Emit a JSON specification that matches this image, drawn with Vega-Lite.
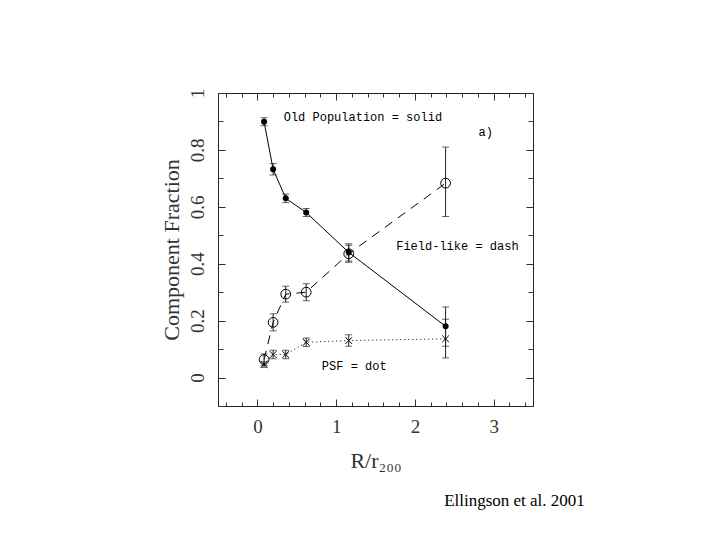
{
  "$schema": "https://vega.github.io/schema/vega-lite/v6.json",
  "description": "Component fraction vs R/r200 (Ellingson et al. 2001).",
  "autosize": {"type": "none"},
  "padding": {"left": 218, "top": 93, "right": 187, "bottom": 134},
  "width": 315,
  "height": 313,
  "background": "white",
  "config": {"view": {"stroke": "#222", "strokeWidth": 1}},
  "datasets": {
    "points": [
      {"series": "old", "x": 0.085, "y": 0.899, "lo": 0.885, "hi": 0.913},
      {"series": "old", "x": 0.2, "y": 0.732, "lo": 0.712, "hi": 0.752},
      {"series": "old", "x": 0.36, "y": 0.63, "lo": 0.615, "hi": 0.645},
      {"series": "old", "x": 0.62, "y": 0.58, "lo": 0.566, "hi": 0.594},
      {"series": "old", "x": 1.16, "y": 0.44, "lo": 0.41, "hi": 0.47},
      {"series": "old", "x": 2.39, "y": 0.18, "lo": 0.11, "hi": 0.248},
      {"series": "field", "x": 0.085, "y": 0.063, "lo": 0.043, "hi": 0.083},
      {"series": "field", "x": 0.2, "y": 0.194, "lo": 0.164, "hi": 0.224},
      {"series": "field", "x": 0.36, "y": 0.293, "lo": 0.265, "hi": 0.321},
      {"series": "field", "x": 0.62, "y": 0.3, "lo": 0.27, "hi": 0.33},
      {"series": "field", "x": 1.16, "y": 0.435, "lo": 0.405, "hi": 0.465},
      {"series": "field", "x": 2.39, "y": 0.683, "lo": 0.566, "hi": 0.81},
      {"series": "psf", "x": 0.085, "y": 0.046, "lo": 0.036, "hi": 0.056},
      {"series": "psf", "x": 0.2, "y": 0.081, "lo": 0.066, "hi": 0.096},
      {"series": "psf", "x": 0.36, "y": 0.081, "lo": 0.066, "hi": 0.096},
      {"series": "psf", "x": 0.62, "y": 0.124, "lo": 0.109, "hi": 0.139},
      {"series": "psf", "x": 1.16, "y": 0.13, "lo": 0.11, "hi": 0.15},
      {"series": "psf", "x": 2.39, "y": 0.136, "lo": 0.069, "hi": 0.205}
    ],
    "notes": [
      {"label": "Old Population = solid", "x": 1.34, "y": 0.917},
      {"label": "a)", "x": 2.9, "y": 0.863},
      {"label": "Field-like = dash", "x": 2.54, "y": 0.464},
      {"label": "PSF = dot", "x": 1.23, "y": 0.039}
    ],
    "credit": [
      {"label": "Ellingson et al. 2001", "x": 3.265, "y": -0.435}
    ]
  },
  "data": {"name": "points"},
  "resolve": {"axis": {"x": "independent", "y": "independent"}},
  "layer": [
    {
      "transform": [{"filter": "datum.series == 'old'"}],
      "mark": {"type": "line", "color": "black", "strokeWidth": 1},
      "encoding": {
        "x": {
          "field": "x", "type": "quantitative",
          "scale": {"domain": [-0.5, 3.5], "nice": false, "zero": false},
          "axis": {
            "orient": "bottom",
            "title": "R/r₂₀₀",
            "titleFont": "Liberation Serif", "titleFontSize": 22, "titleFontWeight": "normal",
            "titleColor": "#333", "titlePadding": 14,
            "values": [-0.4, -0.2, 0, 0.2, 0.4, 0.6, 0.8, 1, 1.2, 1.4, 1.6, 1.8, 2, 2.2, 2.4, 2.6, 2.8, 3, 3.2, 3.4],
            "format": "~g",
            "labelExpr": "datum.value % 1 === 0 ? datum.label : ''",
            "labelFont": "Liberation Serif", "labelFontSize": 19, "labelColor": "#333",
            "labelPadding": 18,
            "tickSize": {"condition": {"test": "datum.value % 1 === 0", "value": -7}, "value": -4},
            "tickColor": "#333",
            "domain": false, "grid": false
          }
        },
        "y": {
          "field": "y", "type": "quantitative",
          "scale": {"domain": [-0.1, 1], "nice": false, "zero": false},
          "axis": {
            "orient": "left",
            "title": "Component Fraction",
            "titleFont": "Liberation Serif", "titleFontSize": 22, "titleFontWeight": "normal",
            "titleColor": "#333", "titlePadding": 5,
            "values": [-0.1, 0, 0.1, 0.2, 0.3, 0.4, 0.5, 0.6, 0.7, 0.8, 0.9, 1],
            "format": "~g",
            "labelExpr": "indexof([0, 0.2, 0.4, 0.6, 0.8, 1], datum.value) >= 0 ? datum.label : ''",
            "labelAngle": -90, "labelAlign": "center", "labelBaseline": "bottom",
            "labelFont": "Liberation Serif", "labelFontSize": 19, "labelColor": "#333",
            "labelPadding": 18,
            "tickSize": {"condition": {"test": "indexof([0, 0.2, 0.4, 0.6, 0.8, 1], datum.value) >= 0", "value": -7}, "value": -5},
            "tickColor": "#333",
            "domain": false, "grid": false
          }
        }
      }
    },
    {
      "transform": [{"filter": "datum.series == 'field'"}],
      "mark": {"type": "line", "color": "black", "strokeWidth": 1, "strokeDash": [9, 7]},
      "encoding": {
        "x": {"field": "x", "type": "quantitative", "axis": null},
        "y": {"field": "y", "type": "quantitative", "axis": null}
      }
    },
    {
      "transform": [{"filter": "datum.series == 'psf'"}],
      "mark": {"type": "line", "color": "black", "strokeWidth": 1, "strokeDash": [1, 3]},
      "encoding": {
        "x": {"field": "x", "type": "quantitative", "axis": null},
        "y": {"field": "y", "type": "quantitative", "axis": null}
      }
    },
    {
      "mark": {"type": "rule", "color": "#222", "strokeWidth": 1},
      "encoding": {
        "x": {"field": "x", "type": "quantitative", "axis": null},
        "y": {"field": "lo", "type": "quantitative", "axis": null},
        "y2": {"field": "hi"}
      }
    },
    {
      "mark": {"type": "tick", "orient": "horizontal", "color": "#222", "thickness": 1, "size": 7},
      "encoding": {
        "x": {"field": "x", "type": "quantitative", "axis": null},
        "y": {"field": "lo", "type": "quantitative", "axis": null}
      }
    },
    {
      "mark": {"type": "tick", "orient": "horizontal", "color": "#222", "thickness": 1, "size": 7},
      "encoding": {
        "x": {"field": "x", "type": "quantitative", "axis": null},
        "y": {"field": "hi", "type": "quantitative", "axis": null}
      }
    },
    {
      "transform": [{"filter": "datum.series == 'old'"}],
      "mark": {"type": "point", "shape": "circle", "filled": true, "color": "black", "size": 36, "opacity": 1},
      "encoding": {
        "x": {"field": "x", "type": "quantitative", "axis": null},
        "y": {"field": "y", "type": "quantitative", "axis": null}
      }
    },
    {
      "transform": [{"filter": "datum.series == 'field'"}],
      "mark": {"type": "point", "shape": "circle", "filled": false, "color": "black", "size": 95, "strokeWidth": 1, "opacity": 1},
      "encoding": {
        "x": {"field": "x", "type": "quantitative", "axis": null},
        "y": {"field": "y", "type": "quantitative", "axis": null}
      }
    },
    {
      "transform": [{"filter": "datum.series == 'psf'"}],
      "mark": {"type": "point", "shape": "M-1,-1L1,1M-1,1L1,-1", "filled": false, "color": "black", "size": 45, "strokeWidth": 1, "opacity": 1},
      "encoding": {
        "x": {
          "field": "x", "type": "quantitative",
          "scale": {"domain": [-0.5, 3.5], "nice": false, "zero": false},
          "axis": {
            "orient": "top", "title": null, "labels": false, "domain": false, "grid": false,
            "values": [-0.4, -0.2, 0, 0.2, 0.4, 0.6, 0.8, 1, 1.2, 1.4, 1.6, 1.8, 2, 2.2, 2.4, 2.6, 2.8, 3, 3.2, 3.4],
            "tickSize": {"condition": {"test": "datum.value % 1 === 0", "value": -7}, "value": -4},
            "tickColor": "#333"
          }
        },
        "y": {
          "field": "y", "type": "quantitative",
          "scale": {"domain": [-0.1, 1], "nice": false, "zero": false},
          "axis": {
            "orient": "right", "title": null, "labels": false, "domain": false, "grid": false,
            "values": [-0.1, 0, 0.1, 0.2, 0.3, 0.4, 0.5, 0.6, 0.7, 0.8, 0.9, 1],
            "tickSize": {"condition": {"test": "indexof([0, 0.2, 0.4, 0.6, 0.8, 1], datum.value) >= 0", "value": -7}, "value": -5},
            "tickColor": "#333"
          }
        }
      }
    },
    {
      "data": {"name": "notes"},
      "mark": {"type": "text", "font": "Liberation Mono", "fontSize": 12, "color": "black", "align": "center", "baseline": "middle"},
      "encoding": {
        "x": {"field": "x", "type": "quantitative", "axis": null},
        "y": {"field": "y", "type": "quantitative", "axis": null},
        "text": {"field": "label"}
      }
    },
    {
      "data": {"name": "credit"},
      "mark": {"type": "text", "font": "Times New Roman, Liberation Serif, serif", "fontSize": 17, "color": "black", "align": "center", "baseline": "middle"},
      "encoding": {
        "x": {"field": "x", "type": "quantitative", "axis": null},
        "y": {"field": "y", "type": "quantitative", "axis": null},
        "text": {"field": "label"}
      }
    }
  ]
}
